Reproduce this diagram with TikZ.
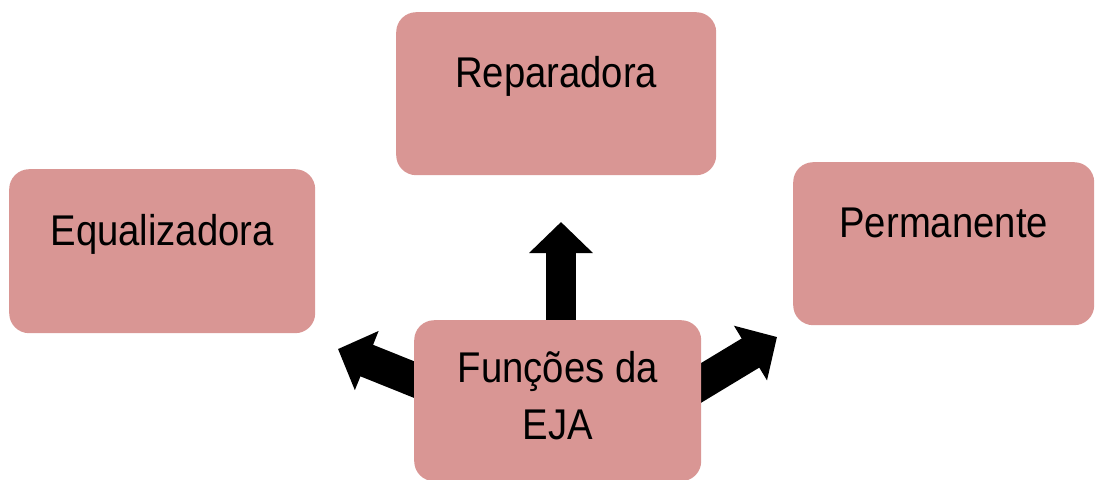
\documentclass[tikz,border=0pt]{standalone}
\usepackage{fontspec}
\setmainfont{Liberation Sans}
\usepackage{graphicx}
\usetikzlibrary{arrows.meta,backgrounds}
\definecolor{boxfill}{HTML}{D99694}
\newcommand{\nar}[1]{\scalebox{0.89}[1]{#1}}
\begin{document}
\begin{tikzpicture}[x=1pt,y=-1pt,
  fbox/.style={fill=boxfill, rounded corners=20pt, inner xsep=0pt, inner ysep=0pt,
    anchor=north west, font=\fontsize{43}{57}\selectfont, text=black},
  barrow/.style={black, -{Triangle[length=31pt,width=62pt]}}]
\useasboundingbox (0,0) rectangle (1097,479);
\clip (0,0) rectangle (1097,479);
\node[fbox, minimum width=320pt, text height=75pt, text depth=88pt] (rep) at (396,12) {\nar{Reparadora}};
\node[fbox, minimum width=306pt, text height=76pt, text depth=88pt] (equ) at (9,169) {\nar{Equalizadora}};
\node[fbox, minimum width=301pt, text height=75pt, text depth=88pt] (per) at (793,162) {\nar{Permanente}};
\node[fbox, minimum width=287pt, align=center, text height=119pt, text depth=42pt] (fun) at (414,320) {\nar{Funções da}\\\nar{EJA}};
\begin{scope}[on background layer]
\coordinate (upS) at (561,340);
\coordinate (upT) at (561,222);
\coordinate (lS) at (440,390);
\coordinate (lT) at (338,349);
\coordinate (rS) at (691,389);
\coordinate (rT) at (777,337);
\draw[barrow, line width=30pt] (upS) -- (upT);
\draw[barrow, line width=34pt] (lS) -- (lT);
\draw[barrow, line width=34pt] (rS) -- (rT);
\end{scope}
\end{tikzpicture}
\end{document}
